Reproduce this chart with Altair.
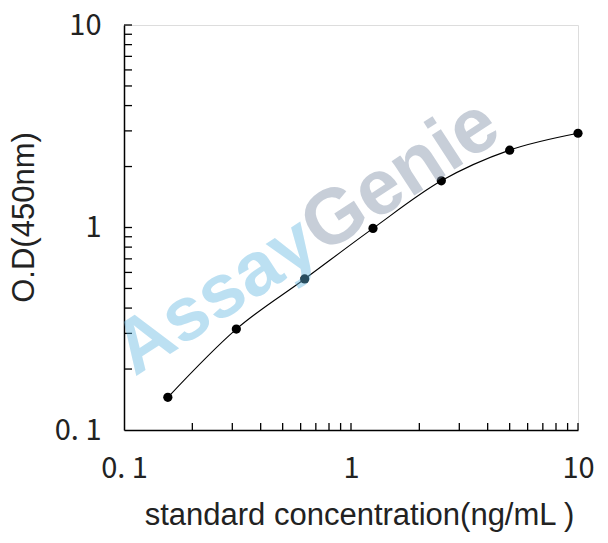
import altair as alt
import pandas as pd

# data
concentration = [0.156, 0.3125, 0.625, 1.25, 2.5, 5, 10]
od_450 = [0.145, 0.315, 0.557, 0.99, 1.70, 2.41, 2.92]

x_minor_ticks = [0.2, 0.3, 0.4, 0.5, 0.6, 0.7, 0.8, 0.9, 1, 2, 3, 4, 5, 6, 7, 8, 9, 10]
y_minor_ticks = [0.2, 0.3, 0.4, 0.5, 0.6, 0.7, 0.8, 0.9, 1, 2, 3, 4, 5, 6, 7, 8, 9, 10]
major_values = [0.1, 1, 10]

watermark_words = ["Assay", "Genie"]
watermark_anchor_x = [0.66, 0.66]
watermark_anchor_y = [0.91, 0.91]
watermark_colors = ["#61b7e2", "#7c8ca4"]

W, H = 454, 405
label_expr = "datum.value < 0.5 ? '0. 1' : (datum.value < 5 ? '1' : '10')"
xscale = alt.Scale(type="log", domain=[0.1, 10])
yscale = alt.Scale(type="log", domain=[0.1, 10])

df = pd.DataFrame({"conc": concentration, "od": od_450})
tx = pd.DataFrame({"t": x_minor_ticks})
ty = pd.DataFrame({"t": y_minor_ticks})
wm = pd.DataFrame({"w": watermark_words, "x": watermark_anchor_x,
                   "y": watermark_anchor_y, "c": watermark_colors})

tick_font = "Noto Sans CJK JP"
title_font = "Liberation Sans"

line = alt.Chart(df).mark_line(color="black", strokeWidth=1.1, interpolate="monotone").encode(
    x=alt.X("conc:Q", scale=xscale,
            axis=alt.Axis(values=major_values, labelExpr=label_expr, ticks=False, tickSize=0,
                          grid=False, domainColor="black", domainWidth=1.5,
                          labelFont=tick_font, labelFontSize=29, labelColor="#222",
                          labelPadding=24, labelFlush=False,
                          title="standard concentration(ng/mL )", titleFont=title_font,
                          titleFontSize=31, titleFontWeight="normal", titleColor="#222",
                          titleX=235, titleY=85, titleBaseline="middle", titleAnchor="middle")),
    y=alt.Y("od:Q", scale=yscale,
            axis=alt.Axis(values=major_values, labelExpr=label_expr, ticks=False, tickSize=0,
                          grid=False, domainColor="black", domainWidth=1.5,
                          labelFont=tick_font, labelFontSize=29, labelColor="#222",
                          labelPadding=23, labelBaseline="middle", labelFlush=False,
                          title="O.D(450nm)", titleFont=title_font,
                          titleFontSize=31, titleFontWeight="normal", titleColor="#222",
                          titleX=-100, titleY=192, titleAngle=270, titleBaseline="middle",
                          titleAlign="center")),
)

points = alt.Chart(df).mark_point(filled=True, color="black", size=85, opacity=1).encode(
    x=alt.X("conc:Q", scale=xscale),
    y=alt.Y("od:Q", scale=yscale),
)

xticks = alt.Chart(tx).mark_rule(color="black", strokeWidth=1.3).encode(
    x=alt.X("t:Q", scale=xscale),
    y=alt.value(H),
    y2=alt.value(H - 7),
)

yticks = alt.Chart(ty).mark_rule(color="black", strokeWidth=1.3).encode(
    y=alt.Y("t:Q", scale=yscale),
    x=alt.value(0),
    x2=alt.value(8),
)

wm_assay = alt.Chart(wm[wm.w == "Assay"]).mark_text(
    font="Liberation Sans", fontWeight="bold", fontSize=76, angle=327,
    align="right", baseline="middle", opacity=0.42
).encode(
    x=alt.X("x:Q", scale=xscale), y=alt.Y("y:Q", scale=yscale),
    text="w:N", color=alt.Color("c:N", scale=None),
)
wm_genie = alt.Chart(wm[wm.w == "Genie"]).mark_text(
    font="Liberation Sans", fontWeight="bold", fontSize=78, angle=327,
    align="left", baseline="middle", opacity=0.42
).encode(
    x=alt.X("x:Q", scale=xscale), y=alt.Y("y:Q", scale=yscale),
    text="w:N", color=alt.Color("c:N", scale=None),
)

chart = alt.layer(line, points, xticks, yticks, wm_assay, wm_genie).properties(
    width=W, height=H,
    autosize=alt.AutoSizeParams(type="none"),
    padding={"left": 116, "top": 17, "right": 22, "bottom": 105},
).configure_view(stroke=None).configure(background="white")

chart.save("out.html", embed_options={"renderer": "svg", "actions": False})
